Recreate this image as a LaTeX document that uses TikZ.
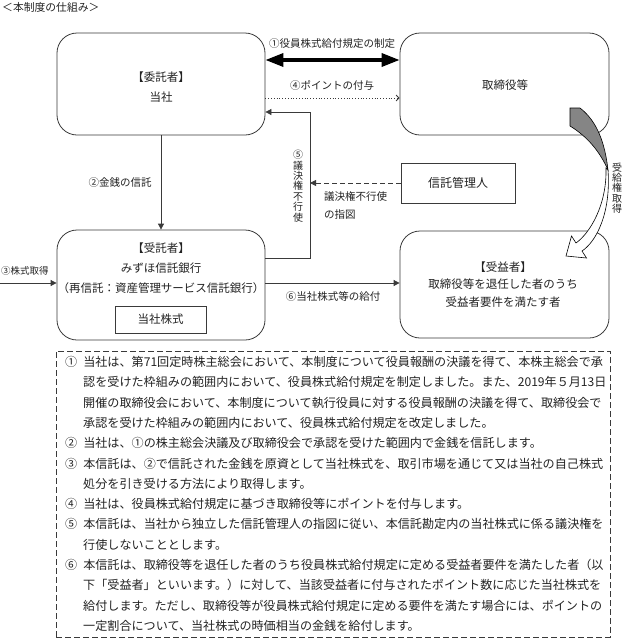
\documentclass[tikz,border=0pt]{standalone}
\usepackage{fontspec}
\setmainfont{Noto Sans CJK JP}
\usetikzlibrary{arrows.meta}
\definecolor{linec}{HTML}{3A3A3A}
\definecolor{txtc}{HTML}{222222}
\definecolor{bandc}{HTML}{858585}
\tikzset{
  rbox/.style={draw=linec, line width=0.8pt, rounded corners=20pt, inner sep=0pt},
  sbox/.style={draw=linec, line width=0.8pt, inner sep=0pt},
  boxtxt/.style={font=\fontsize{11.5}{13}\selectfont, text=txtc, inner sep=0pt},
  lbl/.style={font=\fontsize{10.5}{12}\selectfont, text=txtc, inner sep=0pt},
  vlbl/.style={font=\fontsize{10}{10.4}\selectfont, text=txtc, inner sep=0pt, align=center},
  note/.style={font=\fontsize{12.1}{14}\selectfont, text=txtc, inner sep=0pt, anchor=west},
  conn/.style={draw=linec, line width=0.8pt},
  tipf/.style={-{Triangle[length=6pt,width=6pt]}},
}
\begin{document}
\begin{tikzpicture}[x=1pt,y=-1pt]
\useasboundingbox (0,0) rectangle (624,643);
% title
\node[lbl, anchor=west, font=\fontsize{10.8}{12}\selectfont] (title) at (2,7) {＜本制度の仕組み＞};
% boxes
\node[rbox, minimum width=208pt, minimum height=102pt] (principal) at (161,84) {};
\node[rbox, minimum width=209pt, minimum height=102pt] (directors) at (504.5,84) {};
\node[rbox, minimum width=208pt, minimum height=110pt] (trustee) at (161,285) {};
\node[rbox, minimum width=209pt, minimum height=107pt] (benef) at (504.5,284.5) {};
\node[sbox, minimum width=114pt, minimum height=40pt] (manager) at (458,183) {};
\node[sbox, minimum width=91pt, minimum height=27pt] (shares) at (160.5,319.5) {};
% box texts
\node[boxtxt] (p1) at (161,77) {【委託者】};
\node[boxtxt] (p2) at (161,97) {当社};
\node[boxtxt] (d1) at (505,85) {取締役等};
\node[boxtxt] (t1) at (161,248) {【受託者】};
\node[boxtxt] (t2) at (161,268) {みずほ信託銀行};
\node[boxtxt] (t3) at (161,288) {（再信託：資産管理サービス信託銀行）};
\node[boxtxt] (s1) at (160.5,319.5) {当社株式};
\node[boxtxt] (b1) at (503,267) {【受益者】};
\node[boxtxt] (b2) at (503,284) {取締役等を退任した者のうち};
\node[boxtxt] (b3) at (503,302) {受益者要件を満たす者};
\node[boxtxt, font=\fontsize{12}{14}\selectfont] (m1) at (458,183) {信託管理人};
% (1) thick double arrow
\draw[draw=black, line width=3.5pt, {Triangle[length=18pt,width=13pt]}-{Triangle[length=18pt,width=13pt]}]
  (principal.east |- 0,60) -- (directors.west |- 0,60);
\node[lbl] (l1) at (332,44) {①役員株式給付規定の制定};
% (4) dotted
\draw[conn, dotted, -{Straight Barb[length=3pt,width=6pt]}] (principal.east |- 0,98) -- (directors.west |- 0,98);
\node[lbl] (l4) at (332,85) {④ポイントの付与};
% (2)
\draw[conn, tipf] (principal.south) -- (trustee.north);
\node[lbl] (l2) at (120,183) {②金銭の信託};
% (3)
\coordinate (in3) at (0,283);
\draw[conn, tipf] (in3) -- (in3 -| trustee.west);
\node[lbl, font=\fontsize{9.5}{11}\selectfont, anchor=west] (l3) at (1,271) {③株式取得};
% (5)
\coordinate (v5a) at (310,258);
\coordinate (v5b) at (310,112);
\draw[conn, tipf] (trustee.east |- v5a) -- (v5a) -- (v5b) -- (principal.east |- v5b);
\node[vlbl] (l5) at (298,186) {⑤\\議\\決\\権\\不\\行\\使};
\draw[conn, dashed, dash pattern=on 5pt off 3pt, tipf] (manager.west) -- (v5a |- manager.west);
\node[lbl, anchor=west] (lm1) at (324,197) {議決権不行使};
\node[lbl, anchor=west] (lm2) at (324,215) {の指図};
% (6)
\coordinate (o6) at (0,283);
\draw[conn, tipf] (trustee.east |- o6) -- (benef.west |- o6);
\node[lbl] (l6) at (333,297) {⑥当社株式等の給付};
% curved arrow
\draw[draw=black, line width=0.6pt, fill=bandc]
  (570,108) -- (580,108) .. controls (597,121) and (605,143) .. (608,170)
  .. controls (600,152) and (588,137) .. (570,126) -- cycle;
\draw[draw=black, line width=0.6pt, fill=white]
  (606,168) .. controls (607,205) and (590,233) .. (576,243)
  -- (571.5,236) -- (566,256) -- (586.5,258) -- (582,251)
  .. controls (597,241) and (611,212) .. (608,170) -- cycle;
\node[vlbl] (lr) at (617,188) {受\\給\\権\\取\\得};
% notes
\node[draw=linec, line width=0.8pt, dash pattern=on 6pt off 3pt, minimum width=554pt, minimum height=286pt, inner sep=0pt] (notes) at (333,494) {};
\node[note] (n1) at (65,362) {①\hspace{6pt}当社は、第71回定時株主総会において、本制度について役員報酬の決議を得て、本株主総会で承};
\node[note] (n2) at (83,382.3) {認を受けた枠組みの範囲内において、役員株式給付規定を制定しました。また、2019年５月13日};
\node[note] (n3) at (83,402.6) {開催の取締役会において、本制度について執行役員に対する役員報酬の決議を得て、取締役会で};
\node[note] (n4) at (83,422.9) {承認を受けた枠組みの範囲内において、役員株式給付規定を改定しました。};
\node[note] (n5) at (65,443.2) {②\hspace{6pt}当社は、①の株主総会決議及び取締役会で承認を受けた範囲内で金銭を信託します。};
\node[note] (n6) at (65,463.5) {③\hspace{6pt}本信託は、②で信託された金銭を原資として当社株式を、取引市場を通じて又は当社の自己株式};
\node[note] (n7) at (83,483.8) {処分を引き受ける方法により取得します。};
\node[note] (n8) at (65,504.1) {④\hspace{6pt}当社は、役員株式給付規定に基づき取締役等にポイントを付与します。};
\node[note] (n9) at (65,524.4) {⑤\hspace{6pt}本信託は、当社から独立した信託管理人の指図に従い、本信託勘定内の当社株式に係る議決権を};
\node[note] (n10) at (83,544.7) {行使しないこととします。};
\node[note] (n11) at (65,565) {⑥\hspace{6pt}本信託は、取締役等を退任した者のうち役員株式給付規定に定める受益者要件を満たした者（以};
\node[note] (n12) at (83,585.3) {下「受益者」といいます。）に対して、当該受益者に付与されたポイント数に応じた当社株式を};
\node[note] (n13) at (83,605.6) {給付します。ただし、取締役等が役員株式給付規定に定める要件を満たす場合には、ポイントの};
\node[note] (n14) at (83,625.9) {一定割合について、当社株式の時価相当の金銭を給付します。};
\end{tikzpicture}
\end{document}
